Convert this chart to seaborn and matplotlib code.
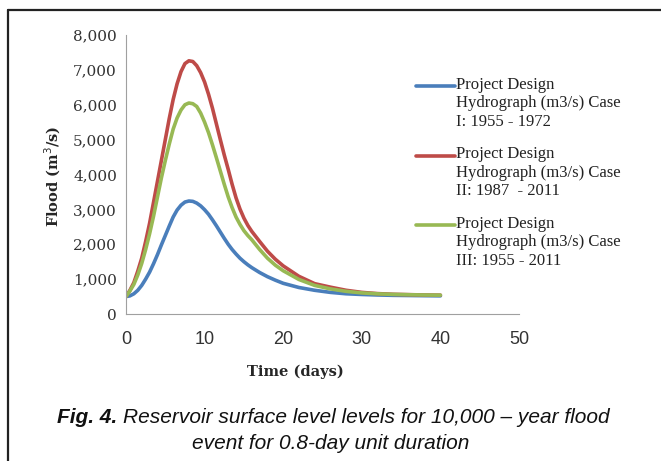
import seaborn as sns
import matplotlib.pyplot as plt
import pandas as pd
from matplotlib.lines import Line2D
from matplotlib.legend_handler import HandlerLine2D

# Flood hydrographs (m3/s)
days = [0, 0.5, 1, 1.5, 2, 2.5, 3, 3.5, 4, 4.5, 5, 5.5, 6, 6.5, 7, 7.5, 8, 8.5,
        9, 9.5, 10, 10.5, 11, 11.5, 12, 12.5, 13, 13.5, 14, 14.5, 15, 15.5, 16,
        17, 18, 19, 20, 22, 24, 26, 28, 30, 32, 34, 36, 38, 40]
case1 = [500, 520, 580, 680, 820, 1000, 1200, 1440, 1700, 1980, 2250, 2520,
         2780, 2980, 3120, 3210, 3240, 3230, 3180, 3100, 2990, 2860, 2700, 2530,
         2350, 2170, 2000, 1850, 1720, 1600, 1500, 1410, 1330,
         1190, 1070, 970, 880, 760, 680, 620, 580, 560, 545, 535, 530, 525, 520]
case2 = [500, 680, 900, 1230, 1600, 2080, 2600, 3200, 3800, 4400, 5000, 5600,
         6150, 6600, 6950, 7180, 7260, 7240, 7120, 6920, 6650, 6300, 5900, 5450,
         5000, 4560, 4150, 3720, 3330, 3010, 2750, 2540, 2370,
         2080, 1800, 1570, 1380, 1080, 870, 770, 680, 620, 585, 565, 555, 545, 540]
case3 = [500, 660, 850, 1120, 1450, 1850, 2300, 2800, 3350, 3900, 4400, 4870,
         5300, 5620, 5850, 6000, 6050, 6030, 5950, 5760, 5500, 5200, 4850, 4480,
         4100, 3720, 3360, 3050, 2780, 2570, 2390, 2250, 2130,
         1850, 1600, 1400, 1240, 990, 820, 720, 650, 605, 578, 562, 552, 545, 540]
labels = ["Project Design\nHydrograph (m3/s) Case\nI: 1955 - 1972",
          "Project Design\nHydrograph (m3/s) Case\nII: 1987  - 2011",
          "Project Design\nHydrograph (m3/s) Case\nIII: 1955 - 2011"]
colors = ["#4a7ebb", "#be4b48", "#98b954"]

df = pd.concat([
    pd.DataFrame({"Time": days, "Flood": vals, "Case": lab})
    for vals, lab in zip([case1, case2, case3], labels)
])


class TopLineHandler(HandlerLine2D):
    # put the legend line next to the first text line instead of the middle
    def __init__(self, shift, **kw):
        super().__init__(**kw)
        self.shift = shift

    def create_artists(self, legend, orig_handle, xdescent, ydescent,
                       width, height, fontsize, trans):
        arts = super().create_artists(legend, orig_handle, xdescent, ydescent,
                                      width, height, fontsize, trans)
        for a in arts:
            a.set_ydata([y + self.shift for y in a.get_ydata()])
        return arts


sns.set_style("white")
plt.rcParams['font.family'] = ['DejaVu Serif']

fig = plt.figure(figsize=(6.61, 4.61), dpi=100)
ax = fig.add_axes([126 / 661, 1 - 314 / 461, 393 / 661, 279 / 461])

sns.lineplot(data=df, x="Time", y="Flood", hue="Case", palette=colors,
             linewidth=2.6, ax=ax)
for ln in ax.get_lines():
    ln.set_solid_joinstyle('round')
    ln.set_solid_capstyle('round')

ax.set_xlim(0, 50)
ax.set_ylim(0, 8000)
ax.set_xticks(range(0, 51, 10))
ax.set_yticks(range(0, 8001, 1000))
ax.set_yticklabels([f"{v:,}" for v in range(0, 8001, 1000)])
ax.tick_params(axis='both', direction='out', width=0.8, color='#a0a0a0',
               labelcolor='#333333')
ax.tick_params(axis='y', length=3, pad=3.5, labelsize=11)
ax.tick_params(axis='x', length=3.6, pad=9, labelsize=13)
for t in ax.get_xticklabels():
    t.set_family(['Liberation Sans', 'DejaVu Sans'])
sns.despine(ax=ax)
for s in ['left', 'bottom']:
    ax.spines[s].set_color('#a0a0a0')
    ax.spines[s].set_linewidth(0.8)

ax.set_xlabel("Time (days)", fontsize=10.5, fontweight='bold', va='center')
ax.xaxis.set_label_coords((295.5 - 126) / 393, (314 - 371.6) / 279)
ax.set_ylabel("Flood (m$^3$/s)", fontsize=10.5, fontweight='bold', va='center')
ax.yaxis.set_label_coords((53 - 126) / 393, (314 - 176) / 279)

leg_fs = 12
leg = ax.legend(loc='upper left', bbox_to_anchor=(416 / 661, 1 - 77 / 461),
                bbox_transform=fig.transFigure, frameon=False,
                prop={'family': ['Liberation Serif', 'DejaVu Serif'], 'size': leg_fs},
                handlelength=2.35, handletextpad=0.08, labelspacing=1.0,
                borderpad=0, borderaxespad=0,
                handler_map={Line2D: TopLineHandler(shift=1.04 * leg_fs)})
for t in leg.get_texts():
    t.set_color('#222222')

# outer frame lines (top and left)
fig.add_artist(Line2D([7.5 / 661, 1], [1 - 10.5 / 461] * 2, color='#222222', lw=1.6))
fig.add_artist(Line2D([7.5 / 661] * 2, [0, 1 - 10.5 / 461], color='#222222', lw=1.6))

cap = ['Liberation Sans', 'DejaVu Sans']
t1 = fig.text(57 / 661, 1 - 427 / 461, "Fig. 4.", family=cap, style='italic',
              fontweight='bold', fontsize=15, ha='left', va='bottom',
              color='#111111')
ax.annotate("Reservoir surface level levels for 10,000 \u2013 year flood",
            xy=(1, 0), xycoords=t1, xytext=(4, 0), textcoords='offset points',
            family=cap, style='italic', fontsize=15, ha='left', va='bottom',
            color='#111111', annotation_clip=False)
fig.text(331 / 661, 1 - 443 / 461, "event for 0.8-day unit duration",
         family=cap, style='italic', fontsize=15, ha='center', va='center',
         color='#111111')

plt.savefig("out.png", dpi=100)
plt.close()
